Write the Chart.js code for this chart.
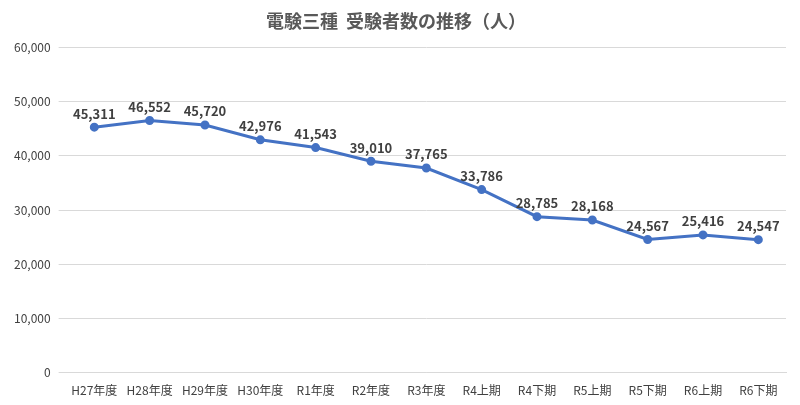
<!DOCTYPE html>
<html>
<head>
<meta charset="utf-8">
<script src="https://cdn.jsdelivr.net/npm/chart.js@4"></script>
<style>
  html, body { margin: 0; padding: 0; background: #fff; }
  #wrap { width: 800px; height: 405px; }
</style>
</head>
<body>
<div id="wrap"><canvas id="examChart"></canvas></div>
<script>
// chart data
const categories = ['H27年度', 'H28年度', 'H29年度', 'H30年度', 'R1年度', 'R2年度', 'R3年度',
                    'R4上期', 'R4下期', 'R5上期', 'R5下期', 'R6上期', 'R6下期'];
const examinees = [45311, 46552, 45720, 42976, 41543, 39010, 37765, 33786, 28785, 28168, 24567, 25416, 24547];
const yTicks = [0, 10000, 20000, 30000, 40000, 50000, 60000];

const FONT = '"Noto Sans CJK JP", "Noto Sans", sans-serif';

// draws the value above each point
const pointLabels = {
    id: 'pointLabels',
    afterDatasetsDraw(chart) {
        const ctx = chart.ctx;
        const meta = chart.getDatasetMeta(0);
        ctx.save();
        ctx.font = 'bold 13px ' + FONT;
        ctx.fillStyle = '#404040';
        ctx.textAlign = 'center';
        ctx.textBaseline = 'bottom';
        meta.data.forEach((pt, i) => {
            ctx.fillText(examinees[i].toLocaleString('en-US'), pt.x, pt.y - 7);
        });
        ctx.restore();
    }
};

new Chart(document.getElementById('examChart'), {
    type: 'line',
    data: {
        labels: categories,
        datasets: [{
            data: examinees,
            borderColor: '#4472C4',
            backgroundColor: '#4472C4',
            borderWidth: 3,
            pointRadius: 3,
            pointBackgroundColor: '#4472C4',
            tension: 0
        }]
    },
    options: {
        responsive: true,
        maintainAspectRatio: false,
        animation: false,
        layout: { padding: { left: 6, right: 14, top: 8, bottom: 4 } },
        scales: {
            x: {
                offset: true,
                grid: { display: false },
                border: { color: '#d9d9d9' },
                ticks: { color: '#404040', font: { family: FONT, size: 12 }, maxRotation: 0, autoSkip: false }
            },
            y: {
                min: 0,
                max: 60000,
                afterBuildTicks: axis => { axis.ticks = yTicks.map(v => ({ value: v })); },
                grid: { color: '#d9d9d9' },
                border: { display: false },
                ticks: {
                    color: '#404040',
                    font: { family: FONT, size: 12 },
                    padding: 8,
                    callback: v => v.toLocaleString('en-US')
                }
            }
        },
        plugins: {
            legend: { display: false },
            tooltip: { enabled: false },
            title: {
                display: true,
                text: '電験三種  受験者数の推移（人）',
                color: '#595959',
                font: { family: FONT, size: 18, weight: 'bold' },
                padding: { top: 2, bottom: 16 }
            }
        }
    },
    plugins: [pointLabels]
});
</script>
</body>
</html>
